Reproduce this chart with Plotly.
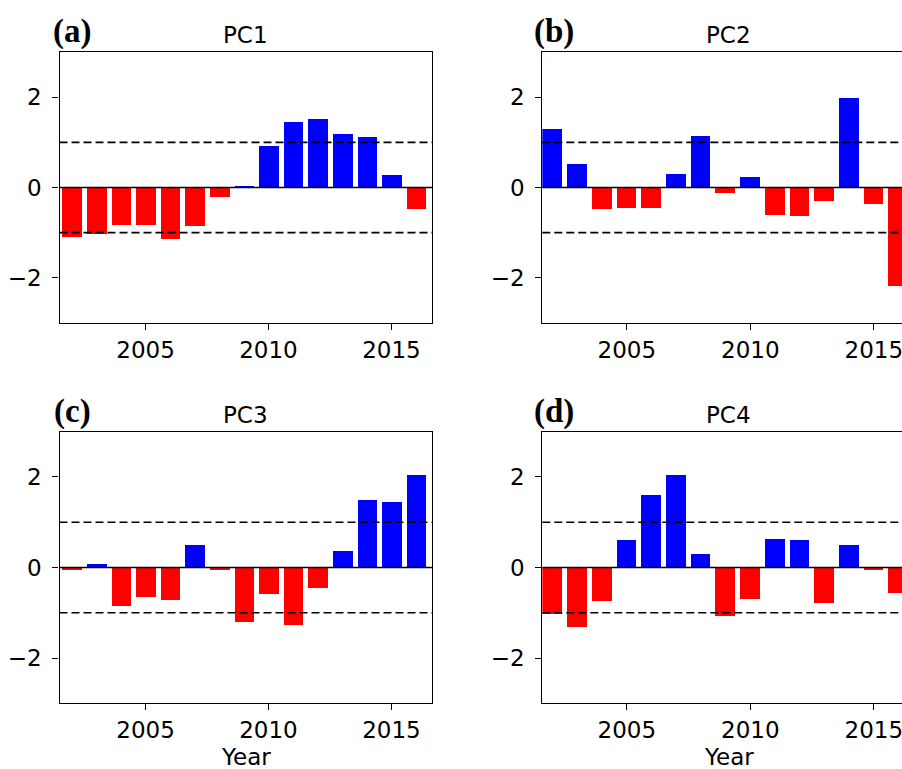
import plotly.graph_objects as go

years = list(range(2002, 2017))
pc1 = [-1.09, -1.02, -0.84, -0.84, -1.13, -0.86, -0.21, 0.04, 0.92, 1.44, 1.51, 1.18, 1.11, 0.27, -0.48]
pc2 = [1.30, 0.53, -0.48, -0.45, -0.45, 0.30, 1.15, -0.12, 0.24, -0.61, -0.64, -0.29, 1.99, -0.37, -2.17]
pc3 = [-0.05, 0.08, -0.84, -0.64, -0.71, 0.51, -0.05, -1.20, -0.58, -1.26, -0.44, 0.38, 1.49, 1.46, 2.05]
pc4 = [-1.03, -1.30, -0.74, 0.61, 1.60, 2.06, 0.31, -1.07, -0.68, 0.64, 0.61, -0.77, 0.51, -0.05, -0.56]
titles = ["PC1", "PC2", "PC3", "PC4"]
panel_labels = ["(a)", "(b)", "(c)", "(d)"]
thresholds = [-1, 1]
yticks = [-2, 0, 2]
xticks = [2005, 2010, 2015]

W, H = 902, 769
series = [pc1, pc2, pc3, pc4]


def px(x):
    return x / W


def py(y):
    return 1 - y / H


# pixel layout in window coordinates (left, right, top, bottom)
boxes = [
    (59.5, 432.0, 52.0, 323.0),
    (542.3, 902.0, 52.0, 323.0),
    (59.5, 432.0, 431.7, 703.3),
    (542.3, 902.0, 431.7, 703.3),
]
xranges = [[2001.5, 2016.65], [2001.58, 2016.14], [2001.5, 2016.65], [2001.58, 2016.14]]

fig = go.Figure()
tick_font = dict(family="DejaVu Sans", size=23, color="black")

for i, (vals, box) in enumerate(zip(series, boxes)):
    n = i + 1
    xa = "x" if n == 1 else f"x{n}"
    ya = "y" if n == 1 else f"y{n}"
    colors = ["#0000ff" if v >= 0 else "#ff0000" for v in vals]
    fig.add_trace(go.Bar(x=years, y=vals, width=0.8, marker=dict(color=colors, line=dict(width=0)),
                         xaxis=xa, yaxis=ya, showlegend=False))
    l, r, t, b = box
    right_panel = i in (1, 3)
    xkey = "xaxis" if n == 1 else f"xaxis{n}"
    ykey = "yaxis" if n == 1 else f"yaxis{n}"
    fig.layout[xkey] = dict(
        domain=[px(l), min(px(r), 1.0)], range=xranges[i], anchor=ya,
        tickvals=xticks, ticks="outside", ticklen=6, tickwidth=1.2, tickcolor="black",
        showline=True, linecolor="black", linewidth=1.3, mirror=True,
        showgrid=False, zeroline=False, tickfont=tick_font, ticklabelstandoff=0,
        ticklabeloverflow="allow",
    )
    fig.layout[ykey] = dict(
        domain=[py(b), py(t)], range=[-3, 3], anchor=xa,
        tickvals=yticks, ticks="outside", ticklen=6, tickwidth=1.2, tickcolor="black",
        showline=True, linecolor="black", linewidth=1.3, mirror=(not right_panel),
        showgrid=False, zeroline=False, tickfont=tick_font, ticklabelstandoff=6,
    )
    fig.add_shape(type="line", xref=f"{xa} domain", yref=ya, x0=0, x1=1, y0=0, y1=0,
                  line=dict(color="black", width=1.6))
    for th in thresholds:
        fig.add_shape(type="line", xref=f"{xa} domain", yref=ya, x0=0, x1=1, y0=th, y1=th,
                      line=dict(color="black", width=1.6, dash="8px,4px"))
    cx = (l + (r if not right_panel else 914.7)) / 2
    fig.add_annotation(x=px(cx), y=py(t - 17), xref="paper", yref="paper",
                       text=titles[i], showarrow=False, xanchor="center", yanchor="middle",
                       font=dict(family="DejaVu Sans", size=23, color="black"))
    lx = 72 if not right_panel else 554
    fig.add_annotation(x=px(lx), y=py(t - 20), xref="paper", yref="paper",
                       text="<b>" + panel_labels[i] + "</b>", showarrow=False,
                       xanchor="center", yanchor="middle",
                       font=dict(family="Liberation Serif", size=33, color="black"))
    if i >= 2:
        fig.add_annotation(x=px(cx), y=py(757), xref="paper", yref="paper",
                           text="Year", showarrow=False, xanchor="center", yanchor="middle",
                           font=dict(family="DejaVu Sans", size=23, color="black"))

fig.update_layout(width=W, height=H, margin=dict(l=0, r=0, t=0, b=0),
                  plot_bgcolor="white", paper_bgcolor="white", bargap=0)
fig.write_html(
    "out.html",
    config={"displayModeBar": False},
    post_script="document.body.style.margin='0';document.body.style.overflow='hidden';"
                "document.documentElement.style.overflow='hidden';",
)
